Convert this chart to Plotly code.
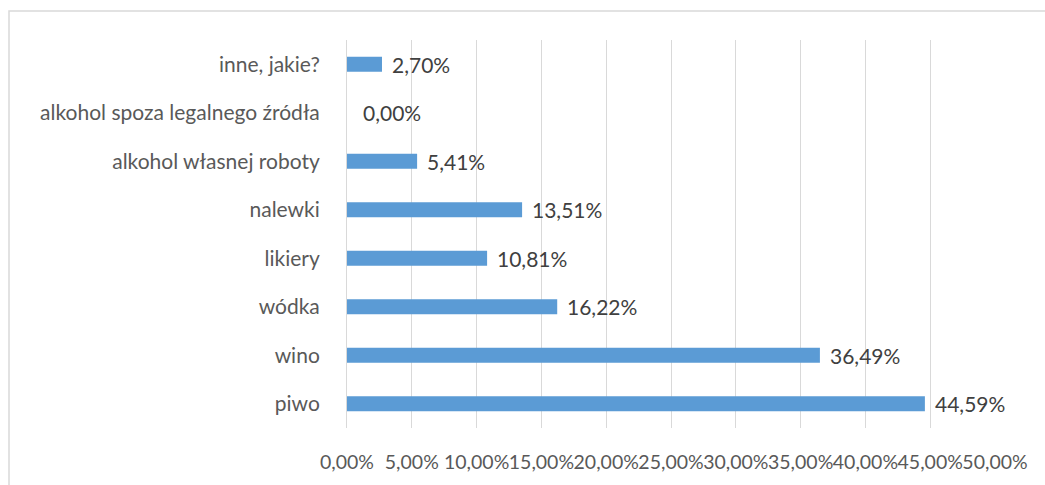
import plotly.graph_objects as go

# Survey answers: which alcohol types are consumed (share of respondents)
categories = [
    "piwo",
    "wino",
    "wódka",
    "likiery",
    "nalewki",
    "alkohol własnej roboty",
    "alkohol spoza legalnego źródła",
    "inne, jakie?",
]
shares = [0.4459, 0.3649, 0.1622, 0.1081, 0.1351, 0.0541, 0.0000, 0.0270]
x_ticks = [0.00, 0.05, 0.10, 0.15, 0.20, 0.25, 0.30, 0.35, 0.40, 0.45, 0.50]

BAR_COLOR = "#5B9BD5"
GRID_COLOR = "#D9D9D9"
TEXT_COLOR = "#595959"
FONT = "Lato"
FONT_SIZE = 21

fig = go.Figure(
    go.Bar(
        x=shares,
        y=categories,
        orientation="h",
        marker=dict(color=BAR_COLOR, line=dict(width=0)),
        hoverinfo="skip",
    )
)

# Value labels to the right of each bar
for cat, val in zip(categories, shares):
    fig.add_annotation(
        x=val,
        y=cat,
        text=f"{val * 100:.2f}%".replace(".", ","),
        showarrow=False,
        xanchor="left",
        xshift=8 if val > 0 else 14,
        font=dict(family=FONT, size=FONT_SIZE, color="#404040"),
    )

# Outer chart border
fig.add_shape(
    type="rect",
    xref="paper",
    yref="paper",
    x0=(9 - 347) / 648,
    x1=(1060 - 347) / 648,
    y0=-0.3,
    y1=1 + (40 - 11) / 388,
    line=dict(color=GRID_COLOR, width=1.5),
    fillcolor="rgba(0,0,0,0)",
    layer="below",
)

fig.update_layout(
    width=1045,
    height=485,
    margin=dict(l=347, r=50, t=40, b=57),
    paper_bgcolor="white",
    plot_bgcolor="white",
    separators=", ",
    bargap=0.69,
    showlegend=False,
    font=dict(family=FONT, size=FONT_SIZE, color=TEXT_COLOR),
    xaxis=dict(
        range=[0, 0.5],
        tickvals=x_ticks,
        tickformat=".2%",
        tickangle=0,
        showgrid=True,
        gridcolor=GRID_COLOR,
        gridwidth=1,
        zeroline=False,
        showline=False,
        ticks="",
        ticklabelstandoff=20,
        tickfont=dict(family=FONT, size=19.5, color=TEXT_COLOR),
        fixedrange=True,
    ),
    yaxis=dict(
        categoryorder="array",
        categoryarray=categories,
        showline=True,
        linecolor=GRID_COLOR,
        linewidth=1,
        showgrid=False,
        ticks="",
        ticklabelstandoff=22,
        tickfont=dict(family=FONT, size=FONT_SIZE, color=TEXT_COLOR),
        fixedrange=True,
    ),
)

fig.write_html("out.html")
